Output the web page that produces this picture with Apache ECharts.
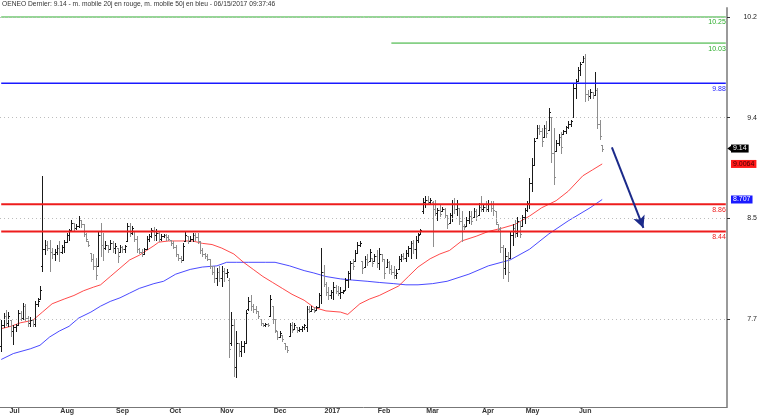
<!DOCTYPE html>
<html><head><meta charset="utf-8">
<script src="https://cdn.jsdelivr.net/npm/echarts@6/dist/echarts.min.js"></script>
<style>html,body{margin:0;padding:0;background:#fff}#c{width:760px;height:415px}</style>
</head><body><div id="c"></div>
<script>
const titleText = 'OENEO Dernier: 9.14 - m. mobile 20j en rouge, m. mobile 50j en bleu - 06/15/2017 09:37:46';
const firstDate = '2016-06-28';
const holidays = ['2016-12-26','2017-04-14','2017-04-17','2017-05-01'];
const totalSlots = 300;
const monthLabels = ['2017','Feb','Mar','Apr','May','Jun','Jul','Aug','Sep','Oct','Nov','Dec'];

const highs = [
7.69,7.75,7.78,7.76,7.69,7.65,7.66,7.78,7.77,7.84,
7.83,7.73,7.72,7.69,7.85,7.88,7.98,8.91,8.37,8.36,
8.37,8.30,8.29,8.33,8.36,8.33,8.37,8.43,8.46,8.54,
8.51,8.50,8.57,8.54,8.50,8.43,8.36,8.26,8.25,8.22,
8.44,8.51,8.43,8.36,8.33,8.37,8.36,8.34,8.30,8.33,
8.32,8.33,8.51,8.51,8.49,8.44,8.40,8.30,8.29,8.30,
8.40,8.42,8.47,8.48,8.46,8.44,8.42,8.42,8.42,8.41,
8.37,8.36,8.33,8.25,8.23,8.34,8.44,8.40,8.40,8.43,
8.43,8.43,8.36,8.30,8.26,8.25,8.21,8.15,8.15,8.13,
8.15,8.15,8.13,8.12,8.05,7.76,7.70,7.60,7.50,7.52,
7.52,7.78,7.89,7.90,7.83,7.81,7.77,7.70,7.67,7.67,
7.67,7.90,7.81,7.70,7.60,7.60,7.57,7.50,7.47,7.67,
7.68,7.67,7.63,7.63,7.64,7.66,7.81,7.81,7.81,7.80,
7.81,7.92,8.30,8.16,8.01,7.97,7.95,8.01,7.99,7.98,
7.97,7.95,8.05,8.11,8.19,8.21,8.28,8.35,8.36,8.19,
8.23,8.25,8.29,8.22,8.25,8.28,8.30,8.25,8.21,8.21,
8.19,8.16,8.15,8.12,8.23,8.25,8.26,8.28,8.32,8.36,
8.37,8.40,8.43,8.46,8.72,8.74,8.74,8.72,8.70,8.71,
8.64,8.67,8.65,8.64,8.58,8.60,8.71,8.72,8.71,8.64,
8.61,8.50,8.56,8.61,8.61,8.64,8.63,8.68,8.74,8.67,
8.70,8.71,8.70,8.70,8.61,8.50,8.48,8.33,8.30,8.27,
8.44,8.50,8.54,8.56,8.53,8.58,8.64,8.70,8.89,9.06,
9.23,9.34,9.34,9.31,9.34,9.37,9.48,9.41,9.31,9.21,
9.26,9.28,9.30,9.33,9.37,9.38,9.69,9.73,9.83,9.87,
9.92,9.94,9.63,9.64,9.62,9.79,9.65,9.38,9.17];

const lows = [
7.43,7.63,7.65,7.64,7.56,7.49,7.60,7.65,7.69,7.70,
7.69,7.64,7.64,7.64,7.64,7.81,7.87,8.11,8.25,8.28,
8.11,8.22,8.20,8.25,8.19,8.26,8.27,8.35,8.37,8.44,
8.44,8.46,8.48,8.48,8.40,8.36,8.32,8.19,8.12,8.04,
8.15,8.23,8.20,8.29,8.27,8.29,8.27,8.26,8.18,8.27,
8.27,8.27,8.36,8.40,8.42,8.36,8.27,8.26,8.23,8.25,
8.29,8.36,8.39,8.37,8.37,8.36,8.37,8.39,8.37,8.37,
8.33,8.30,8.23,8.20,8.18,8.20,8.36,8.34,8.36,8.36,
8.37,8.34,8.26,8.23,8.22,8.20,8.13,8.08,8.01,7.99,
8.02,7.98,8.02,8.06,7.38,7.48,7.22,7.21,7.39,7.39,
7.42,7.50,7.78,7.78,7.76,7.75,7.71,7.65,7.64,7.64,
7.64,7.73,7.67,7.59,7.53,7.55,7.52,7.45,7.42,7.56,
7.59,7.62,7.59,7.60,7.60,7.62,7.60,7.76,7.77,7.76,
7.78,7.80,7.84,7.98,7.90,7.87,7.88,7.87,7.92,7.90,
7.88,7.92,7.95,7.97,8.04,8.12,8.19,8.26,8.32,8.09,
8.14,8.16,8.19,8.15,8.19,8.14,8.12,8.19,8.05,8.14,
8.09,8.08,8.05,8.05,8.12,8.19,8.21,8.19,8.23,8.22,
8.26,8.22,8.35,8.42,8.60,8.65,8.67,8.68,8.32,8.58,
8.54,8.57,8.61,8.56,8.47,8.51,8.53,8.60,8.58,8.50,
8.36,8.46,8.49,8.51,8.50,8.56,8.54,8.58,8.61,8.61,
8.61,8.61,8.61,8.58,8.50,8.44,8.27,8.05,8.08,8.02,
8.22,8.33,8.39,8.40,8.39,8.49,8.51,8.61,8.64,8.78,
9.00,9.23,9.26,9.16,9.24,9.24,9.30,9.03,8.84,9.12,
9.17,9.10,9.26,9.27,9.31,9.33,9.41,9.57,9.71,9.76,
9.87,9.54,9.55,9.57,9.57,9.59,9.31,9.22,9.12];

const opens = [
7.47,7.65,7.73,7.67,7.69,7.60,7.63,7.65,7.75,7.71,
7.81,7.71,7.67,7.69,7.66,7.83,7.87,8.15,8.29,8.33,
8.30,8.27,8.25,8.27,8.30,8.27,8.31,8.35,8.41,8.45,
8.51,8.47,8.49,8.54,8.50,8.42,8.36,8.26,8.21,8.15,
8.15,8.41,8.33,8.30,8.33,8.29,8.34,8.30,8.30,8.27,
8.31,8.29,8.36,8.49,8.43,8.44,8.38,8.29,8.27,8.25,
8.29,8.38,8.40,8.45,8.41,8.43,8.38,8.40,8.41,8.39,
8.37,8.34,8.31,8.25,8.22,8.20,8.36,8.40,8.36,8.38,
8.41,8.39,8.36,8.28,8.25,8.23,8.21,8.15,8.10,8.05,
8.10,8.05,8.11,8.09,8.03,7.50,7.65,7.30,7.50,7.43,
7.47,7.50,7.79,7.85,7.81,7.79,7.77,7.70,7.67,7.65,
7.66,7.73,7.81,7.70,7.60,7.55,7.57,7.50,7.47,7.56,
7.65,7.62,7.63,7.61,7.62,7.63,7.63,7.79,7.77,7.79,
7.78,7.80,7.90,8.10,8.00,7.93,7.90,7.93,7.97,7.94,
7.92,7.93,7.95,8.03,8.09,8.17,8.19,8.26,8.33,8.19,
8.14,8.21,8.19,8.22,8.19,8.23,8.17,8.25,8.21,8.14,
8.18,8.12,8.10,8.07,8.12,8.21,8.23,8.22,8.26,8.30,
8.34,8.29,8.37,8.42,8.61,8.69,8.71,8.69,8.69,8.63,
8.60,8.62,8.61,8.63,8.58,8.51,8.58,8.67,8.63,8.64,
8.53,8.49,8.49,8.54,8.57,8.56,8.61,8.58,8.65,8.63,
8.65,8.63,8.67,8.64,8.61,8.50,8.46,8.31,8.13,8.23,
8.22,8.41,8.47,8.43,8.53,8.49,8.56,8.62,8.68,8.85,
9.00,9.23,9.31,9.29,9.24,9.31,9.30,9.41,9.10,9.12,
9.19,9.24,9.26,9.29,9.32,9.35,9.41,9.65,9.71,9.80,
9.87,9.90,9.60,9.58,9.62,9.59,9.63,9.35,9.17];

const closes = [
7.65,7.73,7.67,7.73,7.60,7.63,7.65,7.75,7.71,7.81,
7.71,7.67,7.69,7.66,7.83,7.85,7.95,8.29,8.33,8.30,
8.27,8.25,8.27,8.30,8.27,8.31,8.35,8.41,8.45,8.51,
8.47,8.49,8.55,8.50,8.42,8.38,8.33,8.21,8.15,8.07,
8.41,8.33,8.30,8.33,8.29,8.34,8.30,8.32,8.23,8.31,
8.29,8.32,8.49,8.43,8.47,8.38,8.29,8.27,8.25,8.29,
8.38,8.40,8.45,8.41,8.43,8.38,8.40,8.41,8.39,8.38,
8.34,8.31,8.25,8.22,8.20,8.32,8.41,8.36,8.38,8.41,
8.39,8.36,8.28,8.25,8.23,8.21,8.15,8.10,8.05,8.10,
8.05,8.11,8.09,8.10,7.45,7.65,7.30,7.50,7.43,7.47,
7.50,7.75,7.85,7.81,7.79,7.77,7.73,7.67,7.65,7.66,
7.65,7.87,7.70,7.61,7.55,7.58,7.53,7.47,7.44,7.65,
7.61,7.65,7.61,7.62,7.63,7.65,7.79,7.77,7.79,7.77,
7.80,7.90,8.10,8.00,7.93,7.90,7.93,7.97,7.94,7.92,
7.93,7.94,8.03,8.09,8.17,8.15,8.26,8.33,8.34,8.13,
8.21,8.18,8.27,8.17,8.23,8.17,8.25,8.21,8.09,8.18,
8.12,8.10,8.07,8.09,8.21,8.23,8.22,8.26,8.30,8.34,
8.29,8.37,8.41,8.45,8.69,8.71,8.69,8.71,8.63,8.60,
8.62,8.59,8.63,8.58,8.50,8.58,8.67,8.63,8.67,8.53,
8.49,8.48,8.54,8.57,8.53,8.61,8.57,8.65,8.63,8.65,
8.63,8.67,8.64,8.62,8.52,8.46,8.31,8.13,8.23,8.10,
8.41,8.47,8.43,8.53,8.42,8.56,8.62,8.68,8.85,9.00,
9.20,9.31,9.29,9.20,9.31,9.27,9.45,9.10,8.90,9.19,
9.24,9.15,9.29,9.32,9.35,9.37,9.65,9.71,9.80,9.85,
9.90,9.60,9.58,9.62,9.59,9.63,9.35,9.25,9.14];

// moving averages: [bar index, value]
const ma20 = [[0,7.62],[4,7.64],[8,7.67],[13,7.69],[17,7.76],[21,7.83],[26,7.87],[30,7.90],[34,7.94],[38,7.97],[41,7.99],[45,8.06],[49,8.13],[53,8.20],[57,8.24],[60,8.28],[63,8.32],[65,8.35],[69,8.36],[75,8.36],[79,8.36],[83,8.34],[87,8.33],[91,8.30],[96,8.25],[100,8.18],[104,8.12],[108,8.06],[112,8.01],[116,7.96],[120,7.91],[125,7.86],[129,7.80],[134,7.77],[140,7.76],[143,7.74],[148,7.83],[152,7.87],[156,7.90],[160,7.94],[164,7.98],[168,8.06],[172,8.14],[177,8.21],[181,8.25],[185,8.28],[190,8.36],[196,8.40],[201,8.44],[207,8.47],[212,8.50],[218,8.57],[223,8.64],[229,8.70],[234,8.78],[240,8.91],[244,8.96],[248,9.01]];
const ma50 = [[0,7.36],[5,7.41],[12,7.45],[16,7.48],[20,7.55],[24,7.60],[28,7.64],[32,7.71],[37,7.76],[41,7.81],[45,7.85],[49,7.88],[53,7.92],[57,7.96],[63,8.00],[67,8.02],[72,8.08],[78,8.12],[83,8.14],[89,8.15],[93,8.18],[97,8.18],[102,8.18],[109,8.18],[113,8.18],[119,8.15],[125,8.11],[129,8.09],[134,8.06],[140,8.04],[145,8.03],[151,8.02],[156,8.01],[162,8.00],[167,7.99],[172,7.99],[178,8.00],[184,8.02],[193,8.08],[201,8.15],[210,8.20],[218,8.29],[226,8.42],[234,8.53],[243,8.64],[248,8.71]];

const yTickValues = [7.7, 8.55, 9.4, 10.25];
const yTickLabels = ['7.7', '8.5', '9.4', '10.2'];
const levelValues = [10.25, 10.03, 9.69, 8.67, 8.44];
const levelLabels = ['10.25', '10.03', '9.88', '8.86', '8.44'];
const levelStarts = [0, 161, 0, 0, 0];
const levelColors = ['#2aac2a', '#2aac2a', '#1a1aff', '#ee1c1c', '#ee1c1c'];
const levelWidths = [1, 1, 1.5, 2, 2];
const lastPrice = 9.14, ma20Last = 9.0064, ma50Last = 8.707;
const arrowFrom = [252, 9.15], arrowTo = [265, 8.47];

// trading-day categories
const dates = [];
{
  const d = new Date(firstDate + 'T00:00:00Z');
  while (dates.length < totalSlots) {
    const s = d.toISOString().slice(0, 10);
    const wd = d.getUTCDay();
    if (wd !== 0 && wd !== 6 && holidays.indexOf(s) < 0) dates.push(s);
    d.setUTCDate(d.getUTCDate() + 1);
  }
}
const monthStart = {};
for (let i = 1; i < highs.length; i++) {
  if (dates[i].slice(5, 7) !== dates[i - 1].slice(5, 7)) monthStart[i] = monthLabels[+dates[i].slice(5, 7) - 1];
}
const ohlc = highs.map((h, i) => [i, opens[i], closes[i], lows[i], highs[i]]);

const chart = echarts.init(document.getElementById('c'), null, {renderer: 'canvas'});
const gridLines = yTickValues.map(v => ({yAxis: v, lineStyle: {type: [1, 3], color: '#bdbdbd', width: 1}, label: {show: false}}));
const boxLines = [
  {yAxis: lastPrice, label: {formatter: String(lastPrice), backgroundColor: '#000', color: '#fff'}},
  {yAxis: ma20Last, label: {formatter: String(ma20Last), backgroundColor: '#ff1a1a', color: '#400'}},
  {yAxis: ma50Last, label: {formatter: String(ma50Last), backgroundColor: '#1a1aff', color: '#fff'}}
].map(o => ({yAxis: o.yAxis, lineStyle: {color: 'rgba(255,255,255,0)', width: 1, type: 'solid'},
  label: Object.assign({show: true, position: 'end', distance: 4, fontSize: 7, padding: [1, 2, 0, 2], fontFamily: 'Liberation Sans'}, o.label)}));

const levelSeries = levelValues.map((v, k) => ({
  type: 'line', name: 'niveau ' + levelLabels[k], silent: true, z: 4, showSymbol: false, symbol: 'none',
  data: [[levelStarts[k], v], [totalSlots - 1, v]],
  lineStyle: {color: levelColors[k], width: levelWidths[k], type: 'solid'},
  endLabel: {show: true, formatter: levelLabels[k], color: levelColors[k], fontSize: 7, fontFamily: 'Liberation Sans',
    align: 'right', verticalAlign: 'top', offset: [-8, 2]}
}));

chart.setOption({
  animation: false,
  backgroundColor: '#fff',
  title: {text: titleText, left: 2, top: 0, padding: [1, 0, 0, 0],
    textStyle: {fontSize: 6.7, fontWeight: 'normal', color: '#333', fontFamily: 'Liberation Sans'}},
  grid: {left: 0, right: 32, top: 8, bottom: 7, containLabel: false},
  xAxis: {
    type: 'category', data: dates, boundaryGap: true,
    axisLine: {lineStyle: {color: '#777', width: 1}},
    axisTick: {interval: (i) => monthStart[i] !== undefined, alignWithLabel: true, length: 3, lineStyle: {color: '#333'}},
    axisLabel: {interval: (i) => monthStart[i] !== undefined, formatter: (v, i) => monthStart[i] || '',
      align: 'left', margin: 1, padding: [0, 0, 0, 1], fontSize: 7, fontWeight: 'bold', color: '#333', fontFamily: 'Liberation Sans'},
    splitLine: {show: false}
  },
  yAxis: {
    type: 'value', position: 'right', min: 6.959, max: 10.326,
    axisLine: {show: true, lineStyle: {color: '#9a9a9a', width: 2}},
    axisTick: {show: true, customValues: yTickValues, length: 3, lineStyle: {color: '#333'}},
    axisLabel: {customValues: yTickValues, formatter: (v) => {
        const k = yTickValues.findIndex(t => Math.abs(t - v) < 1e-6); return k >= 0 ? yTickLabels[k] : ''; },
      align: 'right', margin: 30, fontSize: 7, color: '#222', fontFamily: 'Liberation Sans'},
    splitLine: {show: false}
  },
  series: [
    {type: 'line', name: 'grid', data: [], silent: true, z: 1,
      markLine: {silent: true, symbol: ['none', 'none'], animation: false, data: gridLines}},
    {type: 'line', name: 'MM50', data: ma50, showSymbol: false, silent: true, z: 2,
      lineStyle: {color: '#2a2aff', width: 1, opacity: 0.85}},
    {type: 'line', name: 'MM20', data: ma20, showSymbol: false, silent: true, z: 2,
      lineStyle: {color: '#ff2a2a', width: 1, opacity: 0.85}},
    {type: 'custom', name: 'OENEO', data: ohlc, z: 3, encode: {x: 0, y: [1, 2, 3, 4]},
      renderItem: (params, api) => {
        const i = api.value(0), o = api.value(1), c = api.value(2), l = api.value(3), h = api.value(4);
        const ph = api.coord([i, h]), pl = api.coord([i, l]), po = api.coord([i, o]), pc = api.coord([i, c]);
        const x = Math.round(ph[0]) + 0.5;
        const col = c >= o ? '#1a1a1a' : '#8e8e8e';
        const st = {stroke: col, lineWidth: 1};
        const yo = Math.round(po[1]) + 0.5, yc = Math.round(pc[1]) + 0.5;
        return {type: 'group', children: [
          {type: 'line', shape: {x1: x, y1: Math.round(ph[1]), x2: x, y2: Math.round(pl[1]) + 1}, style: st},
          {type: 'line', shape: {x1: x - 1.5, y1: yo, x2: x, y2: yo}, style: st},
          {type: 'line', shape: {x1: x, y1: yc, x2: x + 1.5, y2: yc}, style: st}
        ]};
      }}
  ].concat(levelSeries).concat([
    {type: 'line', name: 'repères', data: [], silent: true, z: 5,
      markPoint: {silent: true, animation: false, symbol: 'triangle', symbolSize: [7, 5], symbolRotate: 90,
        symbolOffset: [4, 0], itemStyle: {color: '#000'}, label: {show: false},
        data: [{coord: [totalSlots - 1, lastPrice]}]},
      markLine: {silent: true, symbol: ['none', 'none'], animation: false,
        data: boxLines.concat([[
          {coord: arrowFrom, symbol: 'none', lineStyle: {color: '#1b2a8a', width: 2, type: 'solid'}, label: {show: false}},
          {coord: arrowTo, symbol: 'arrow', symbolSize: [9, 12]}
        ]])}}
  ])
});
</script></body></html>
